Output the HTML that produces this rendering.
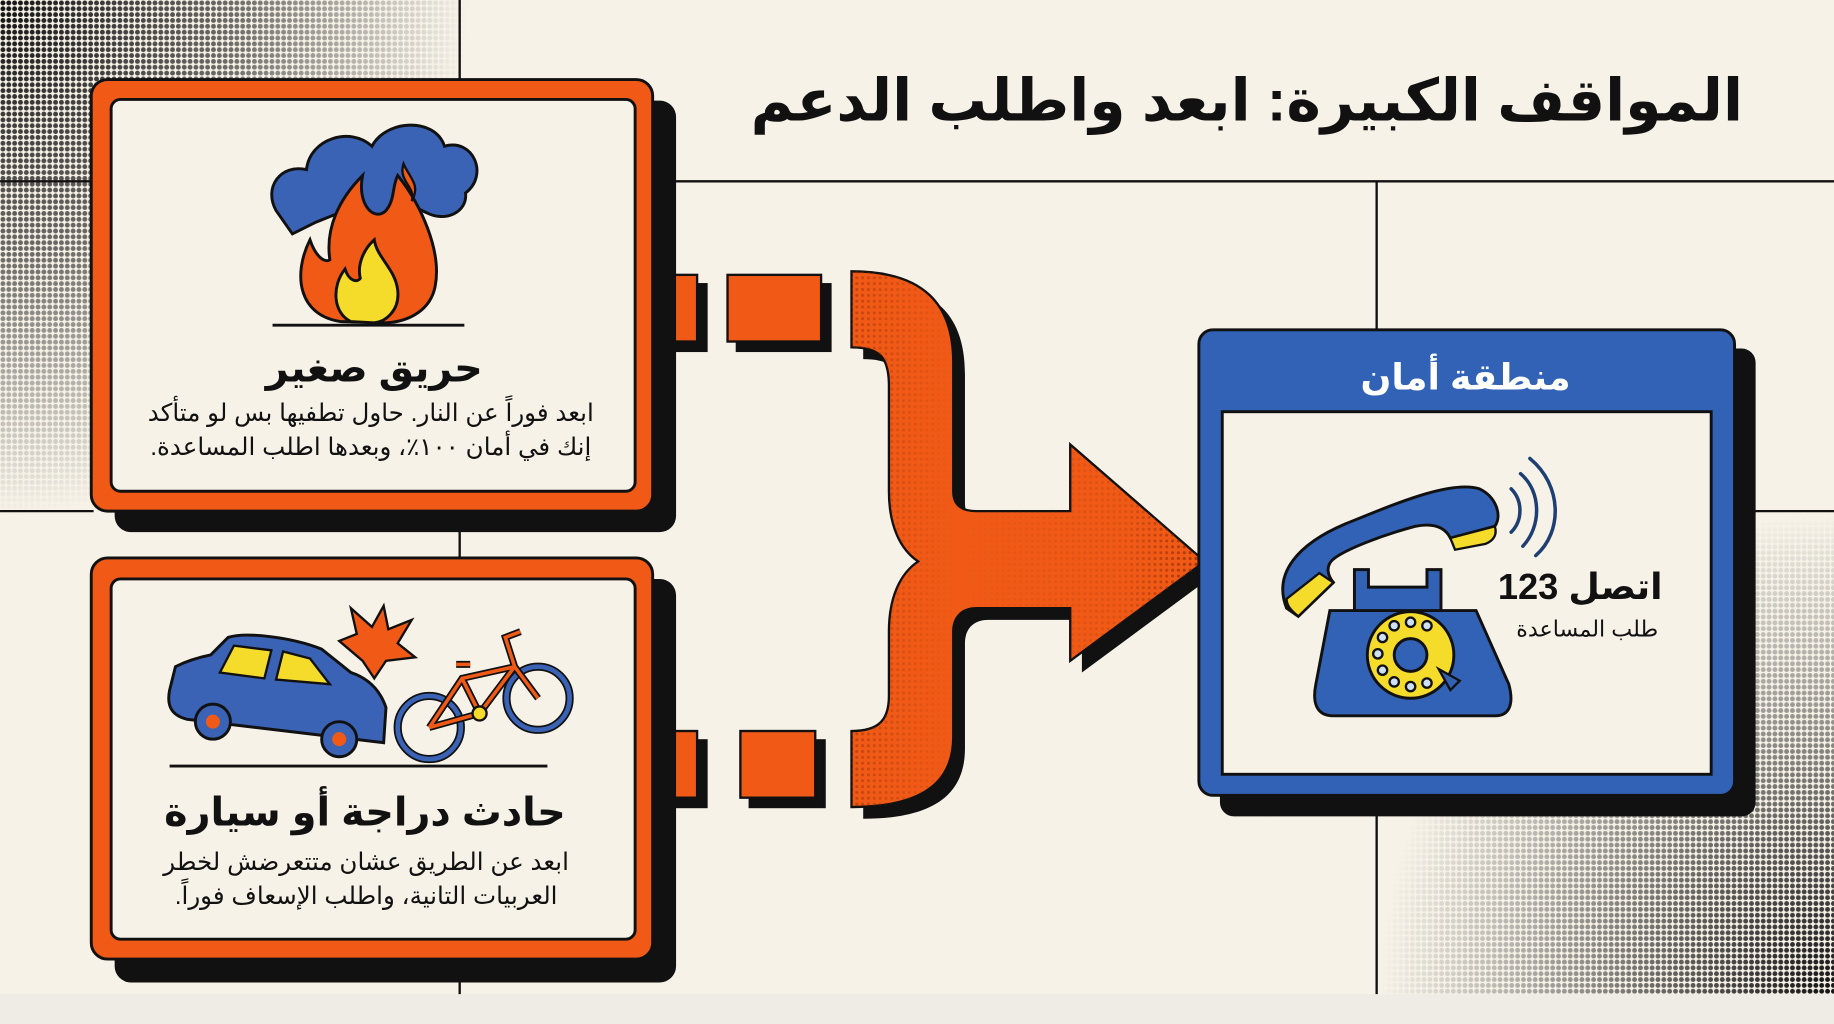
<!DOCTYPE html>
<html><head><meta charset="utf-8"><style>
html,body{margin:0;padding:0;background:#f6f2e8;}
svg{display:block}
text{font-family:"Liberation Sans","Noto Sans CJK SC","DejaVu Sans",sans-serif;}
</style></head><body>
<svg width="1834" height="1024" viewBox="0 0 1568 875.5" xmlns="http://www.w3.org/2000/svg">
<defs>
<pattern id="dots" width="5" height="5" patternUnits="userSpaceOnUse"><circle cx="2.5" cy="2.5" r="2.1" fill="#111"/></pattern>
<pattern id="dotsO" width="5" height="5" patternUnits="userSpaceOnUse"><circle cx="2.5" cy="2.5" r="1.3" fill="#8a2a05"/></pattern>
<radialGradient id="gTL" cx="0" cy="0" r="1" gradientUnits="objectBoundingBox"><stop offset="0" stop-color="#fff" stop-opacity="1"/><stop offset="0.5" stop-color="#fff" stop-opacity="0.6"/><stop offset="1" stop-color="#fff" stop-opacity="0"/></radialGradient>
<mask id="mTL"><rect x="0" y="0" width="400" height="440" fill="url(#gTL)"/></mask>
<radialGradient id="gBR" cx="1" cy="1" r="1" gradientUnits="objectBoundingBox"><stop offset="0" stop-color="#fff" stop-opacity="1"/><stop offset="0.5" stop-color="#fff" stop-opacity="0.5"/><stop offset="1" stop-color="#fff" stop-opacity="0"/></radialGradient>
<mask id="mBR"><rect x="1180" y="440" width="388" height="410" fill="url(#gBR)"/></mask>
<linearGradient id="gAr" x1="0" y1="0" x2="1" y2="0"><stop offset="0" stop-color="#fff" stop-opacity="0.5"/><stop offset="0.3" stop-color="#fff" stop-opacity="0"/><stop offset="0.75" stop-color="#fff" stop-opacity="0.2"/><stop offset="1" stop-color="#fff" stop-opacity="0.9"/></linearGradient>
<mask id="mAr"><rect x="720" y="220" width="320" height="480" fill="url(#gAr)"/></mask>
</defs>
<rect width="1568" height="876" fill="#f6f2e8"/>
<rect y="850" width="1568" height="26" fill="#efece5"/>
<!-- halftones -->
<rect x="0" y="0" width="400" height="440" fill="url(#dots)" mask="url(#mTL)"/>
<rect x="1180" y="440" width="388" height="410" fill="url(#dots)" mask="url(#mBR)"/>
<!-- grid lines -->
<g stroke="#111" stroke-width="2">
<line x1="393" y1="0" x2="393" y2="850"/>
<line x1="0" y1="155" x2="1568" y2="155"/>
<line x1="0" y1="437" x2="80" y2="437"/>
<line x1="1480" y1="437" x2="1568" y2="437"/>
<line x1="1177" y1="155" x2="1177" y2="850"/>
</g>
<rect x="560" y="0" width="1000" height="150" fill="#f6f2e8"/>
<rect x="400" y="0" width="170" height="70" fill="#f6f2e8"/>
<!-- title -->
<text x="1066" y="103" font-size="50" font-weight="bold" text-anchor="middle" direction="rtl" fill="#111">المواقف الكبيرة: ابعد واطلب الدعم</text>

<!-- dashes -->
<g stroke="#111" stroke-width="2">
<rect x="568" y="243" width="36" height="57" fill="#111"/>
<rect x="630" y="243" width="80" height="57" fill="#111"/>
<rect x="568" y="633" width="36" height="57" fill="#111"/>
<rect x="641" y="633" width="64" height="57" fill="#111"/>
<rect x="560" y="235" width="36" height="57" fill="#f05a16"/>
<rect x="622" y="235" width="80" height="57" fill="#f05a16"/>
<rect x="560" y="625" width="36" height="57" fill="#f05a16"/>
<rect x="633" y="625" width="64" height="57" fill="#f05a16"/>
</g>
<!-- brace arrow -->
<path transform="translate(10,10)" fill="#111" d="M728,232 C790,232 815,260 815,310 L815,420 C815,432 822,437 835,437 L915,437 L915,380 L1030,480 L915,565 L915,520 L835,520 C822,520 815,528 815,540 L815,630 C815,668 790,690 728,690 L728,625 C752,625 760,615 760,595 L760,540 C760,510 770,490 785,480 C770,470 760,450 760,420 L760,330 C760,305 752,297 728,297 Z"/>
<path fill="#f05a16" stroke="#111" stroke-width="2" d="M728,232 C790,232 815,260 815,310 L815,420 C815,432 822,437 835,437 L915,437 L915,380 L1030,480 L915,565 L915,520 L835,520 C822,520 815,528 815,540 L815,630 C815,668 790,690 728,690 L728,625 C752,625 760,615 760,595 L760,540 C760,510 770,490 785,480 C770,470 760,450 760,420 L760,330 C760,305 752,297 728,297 Z"/>
<clipPath id="cAr"><path d="M728,232 C790,232 815,260 815,310 L815,420 C815,432 822,437 835,437 L915,437 L915,380 L1030,480 L915,565 L915,520 L835,520 C822,520 815,528 815,540 L815,630 C815,668 790,690 728,690 L728,625 C752,625 760,615 760,595 L760,540 C760,510 770,490 785,480 C770,470 760,450 760,420 L760,330 C760,305 752,297 728,297 Z"/></clipPath>
<rect x="720" y="220" width="320" height="480" fill="url(#dotsO)" mask="url(#mAr)" clip-path="url(#cAr)"/>

<!-- card 1 -->
<rect x="98" y="86" width="480" height="369" rx="14" fill="#111"/>
<rect x="78" y="68" width="480" height="369" rx="14" fill="#f05a16" stroke="#111" stroke-width="2.5"/>
<rect x="95" y="85" width="448" height="335" rx="8" fill="#f6f2e8" stroke="#111" stroke-width="2.5"/>
<!-- cloud -->
<path d="M236,180 C225,160 240,140 262,145 C265,118 300,108 318,125 C330,102 372,100 380,125 C405,118 418,150 398,165 C400,182 380,190 365,182 L350,175 L330,188 L300,178 L270,190 L250,200 Z" fill="#3a62b5" stroke="#111" stroke-width="2.5"/>
<!-- flame -->
<path d="M292,275 C255,270 250,235 265,205 C270,220 278,225 282,222 C278,195 290,170 310,150 C305,175 320,190 330,180 C338,170 335,160 340,150 C360,175 378,215 372,245 C368,265 350,275 330,276 Z" fill="#f05a16" stroke="#111" stroke-width="2.5"/>
<path d="M300,275 C285,268 283,245 295,230 C298,240 305,242 308,238 C305,225 312,212 320,205 C322,220 338,230 340,248 C342,265 330,275 320,276 Z" fill="#f5dc2a" stroke="#111" stroke-width="2.5"/>
<path d="M345,140 C350,152 360,158 352,172 C356,160 340,155 345,140 Z" fill="#f05a16" stroke="#111" stroke-width="2"/>
<line x1="233" y1="278" x2="397" y2="278" stroke="#111" stroke-width="2.5"/>
<text x="320" y="326" font-size="34" font-weight="bold" text-anchor="middle" direction="rtl" fill="#111">حريق صغير</text>
<text x="317" y="360" font-size="21" text-anchor="middle" direction="rtl" fill="#111">ابعد فوراً عن النار. حاول تطفيها بس لو متأكد</text>
<text x="317" y="389" font-size="21" text-anchor="middle" direction="rtl" fill="#111">إنك في أمان ١٠٠٪، وبعدها اطلب المساعدة.</text>

<!-- card 2 -->
<rect x="98" y="495" width="480" height="345" rx="14" fill="#111"/>
<rect x="78" y="477" width="480" height="343" rx="14" fill="#f05a16" stroke="#111" stroke-width="2.5"/>
<rect x="95" y="495" width="448" height="308" rx="8" fill="#f6f2e8" stroke="#111" stroke-width="2.5"/>
<!-- car -->
<path d="M145,590 L150,570 C160,565 170,562 180,560 L195,545 C210,540 250,545 275,555 L300,575 C315,580 325,590 330,605 L328,635 L160,615 C148,612 142,605 145,590 Z" fill="#3a62b5" stroke="#111" stroke-width="2.5"/>
<path d="M188,575 L200,552 L232,556 L226,580 Z M236,581 L242,557 L265,563 L282,585 Z" fill="#f5dc2a" stroke="#111" stroke-width="2"/>
<circle cx="182" cy="617" r="15" fill="#3a62b5" stroke="#111" stroke-width="2.5"/><circle cx="182" cy="617" r="6" fill="#f05a16"/>
<circle cx="290" cy="632" r="15" fill="#3a62b5" stroke="#111" stroke-width="2.5"/><circle cx="290" cy="632" r="6" fill="#f05a16"/>
<!-- burst -->
<path d="M290,548 L305,542 L300,520 L318,536 L328,518 L332,538 L352,530 L340,550 L355,562 L330,565 L320,580 L310,565 Z" fill="#f05a16" stroke="#111" stroke-width="2"/>
<!-- bike -->
<g fill="none" stroke="#111" stroke-width="7"><circle cx="367" cy="622" r="27"/><circle cx="460" cy="597" r="27"/></g>
<g fill="none" stroke="#3a62b5" stroke-width="4"><circle cx="367" cy="622" r="27"/><circle cx="460" cy="597" r="27"/></g>
<path d="M367,622 L395,580 L440,570 L460,597 M395,580 L410,610 L440,570 M367,622 L410,610 M440,570 L432,545 L445,540 M390,568 L402,568" fill="none" stroke="#111" stroke-width="6"/>
<path d="M367,622 L395,580 L440,570 L460,597 M395,580 L410,610 L440,570 M367,622 L410,610 M440,570 L432,545 L445,540 M390,568 L402,568" fill="none" stroke="#f05a16" stroke-width="3"/>
<circle cx="410" cy="610" r="6" fill="#f5dc2a" stroke="#111" stroke-width="2"/>
<line x1="145" y1="655" x2="468" y2="655" stroke="#111" stroke-width="2.5"/>
<text x="312" y="706" font-size="34" font-weight="bold" text-anchor="middle" direction="rtl" fill="#111">حادث دراجة أو سيارة</text>
<text x="313" y="744" font-size="21" text-anchor="middle" direction="rtl" fill="#111">ابعد عن الطريق عشان متتعرضش لخطر</text>
<text x="313" y="773" font-size="21" text-anchor="middle" direction="rtl" fill="#111">العربيات التانية، واطلب الإسعاف فوراً.</text>

<!-- safe zone -->
<rect x="1043" y="298" width="458" height="400" rx="12" fill="#111"/>
<rect x="1025" y="282" width="458" height="398" rx="12" fill="#3262b5" stroke="#111" stroke-width="2.5"/>
<text x="1253" y="333" font-size="31" font-weight="bold" text-anchor="middle" direction="rtl" fill="#fff">منطقة أمان</text>
<rect x="1045" y="352" width="418" height="310" fill="#f6f2e8" stroke="#111" stroke-width="2.5"/>
<!-- phone -->
<path d="M1137,522 L1125,585 C1122,600 1125,612 1140,612 L1278,612 C1292,612 1294,600 1290,585 L1262,522 Z" fill="#3262b5" stroke="#111" stroke-width="2.5"/>
<path d="M1158,522 L1158,487 L1170,487 L1170,502 L1220,502 L1220,487 L1232,487 L1232,522 Z" fill="#3262b5" stroke="#111" stroke-width="2.5"/>
<circle cx="1206" cy="560" r="37" fill="#f5dc2a" stroke="#111" stroke-width="2.5"/>
<circle cx="1206" cy="560" r="14" fill="#3262b5" stroke="#111" stroke-width="2.5"/>
<g fill="#cfe0f5" stroke="#111" stroke-width="2">
<circle cx="1206" cy="532" r="4"/><circle cx="1220" cy="535" r="4"/><circle cx="1192" cy="535" r="4"/><circle cx="1182" cy="545" r="4"/><circle cx="1178" cy="559" r="4"/><circle cx="1182" cy="573" r="4"/><circle cx="1192" cy="583" r="4"/><circle cx="1206" cy="587" r="4"/><circle cx="1220" cy="584" r="4"/></g>
<path d="M1230,572 L1248,582 L1240,590 Z" fill="#3262b5" stroke="#111" stroke-width="2"/>
<path d="M1100,520 C1088,490 1110,465 1150,448 C1190,432 1240,410 1265,418 C1278,424 1285,440 1278,450 L1240,460 C1235,450 1225,447 1210,450 C1180,458 1150,470 1140,478 C1133,484 1135,492 1140,498 L1110,527 Z" fill="#3262b5" stroke="#111" stroke-width="2.5"/>
<path d="M1240,460 L1278,450 C1280,456 1278,462 1270,465 L1244,470 Z" fill="#f5dc2a" stroke="#111" stroke-width="2"/>
<path d="M1140,498 L1110,527 C1104,522 1100,518 1100,512 L1128,490 Z" fill="#f5dc2a" stroke="#111" stroke-width="2"/>
<g fill="none" stroke="#1f3f73" stroke-width="3" stroke-linecap="round">
<path d="M1292,418 C1302,428 1302,445 1292,455"/>
<path d="M1300,405 C1318,420 1318,450 1302,467"/>
<path d="M1308,392 C1336,415 1336,455 1313,475"/>
</g>
<text x="1351" y="512" font-size="31" font-weight="bold" text-anchor="middle" direction="rtl" fill="#111">اتصل 123</text>
<text x="1357" y="544" font-size="19" text-anchor="middle" direction="rtl" fill="#111">طلب المساعدة</text>
</svg>
</body></html>
